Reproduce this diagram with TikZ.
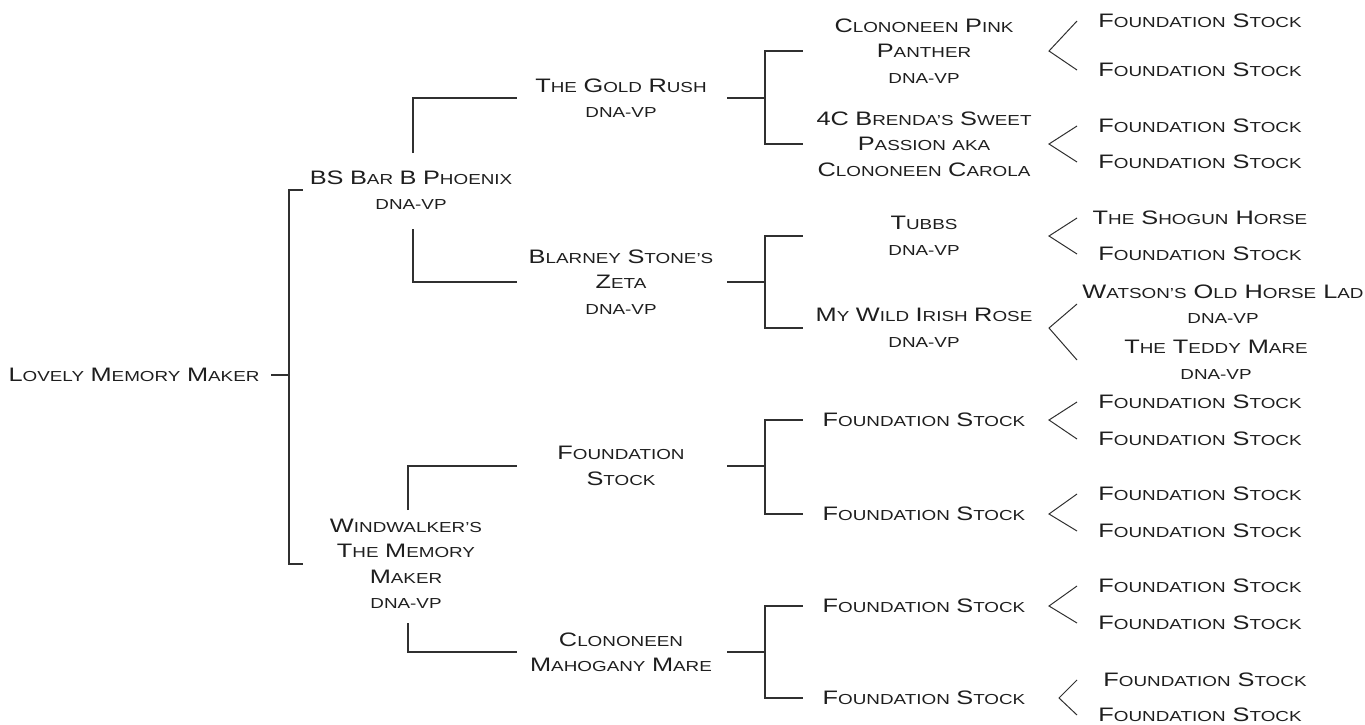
\documentclass[tikz,border=0pt]{standalone}
\usepackage{fontspec}
\setmainfont{Liberation Sans}[FakeStretch=1.3]
\newcommand\lc[1]{{\fontsize{14.5}{17}\selectfont\MakeUppercase{#1}}}
\newcommand\fstock{F\lc{oundation} S\lc{tock}}
\definecolor{ink}{HTML}{1E1E1E}
\definecolor{rule}{HTML}{303030}
\tikzset{
  horse/.style={inner sep=0pt, align=center, text=ink, font=\fontsize{19.5}{25.5}\selectfont},
  subject/.style={horse, text width=270pt},
  sire/.style={horse, text width=210pt},
  grand/.style={horse, text width=190pt},
  great/.style={horse, text width=230pt},
  link/.style={draw=rule, line width=1.4pt},
  fork/.style={draw=rule, line width=1pt},
}
\begin{document}
\begin{tikzpicture}[x=1pt,y=-1pt]
	\useasboundingbox (0,0) rectangle (1365,724);
	% subject and parents
	\node[subject] (lmm) at (134,375) {L\lc{ovely} M\lc{emory} M\lc{aker}};
	\node[sire] (bsb) at (411,190) {BS B\lc{ar} B P\lc{hoenix}\\\lc{dna-vp}};
	\node[sire] (ww) at (406,564) {W\lc{indwalker's}\\T\lc{he} M\lc{emory}\\M\lc{aker}\\\lc{dna-vp}};
	% grandparents
	\node[grand] (gold) at (621,98) {T\lc{he} G\lc{old} R\lc{ush}\\\lc{dna-vp}};
	\node[grand] (zeta) at (621,282) {B\lc{larney} S\lc{tone's}\\Z\lc{eta}\\\lc{dna-vp}};
	\node[grand] (fsa) at (621,466) {F\lc{oundation}\\S\lc{tock}};
	\node[grand] (cmm) at (621,652) {C\lc{lononeen}\\M\lc{ahogany} M\lc{are}};
	% great-grandparents
	\node[great] (pink) at (924,51) {C\lc{lononeen} P\lc{ink}\\P\lc{anther}\\\lc{dna-vp}};
	\node[great] (carola) at (924,144) {4C B\lc{renda's} S\lc{weet}\\P\lc{assion aka}\\C\lc{lononeen} C\lc{arola}};
	\node[great] (tubbs) at (924,236) {T\lc{ubbs}\\\lc{dna-vp}};
	\node[great] (rose) at (924,328) {M\lc{y} W\lc{ild} I\lc{rish} R\lc{ose}\\\lc{dna-vp}};
	\node[great] (fsb) at (924,420) {\fstock};
	\node[great] (fsc) at (924,514) {\fstock};
	\node[great] (fsd) at (924,606) {\fstock};
	\node[great] (fse) at (924,698) {\fstock};
	% last generation
	\node[horse] (g1) at (1200,21) {\fstock};
	\node[horse] (g2) at (1200,70) {\fstock};
	\node[horse] (g3) at (1200,126) {\fstock};
	\node[horse] (g4) at (1200,162) {\fstock};
	\node[horse] (shogun) at (1200,218) {T\lc{he} S\lc{hogun} H\lc{orse}};
	\node[horse] (g6) at (1200,254) {\fstock};
	\node[horse] (watson) at (1223,304) {W\lc{atson's} O\lc{ld} H\lc{orse} L\lc{ad}\\\lc{dna-vp}};
	\node[horse] (teddy) at (1216,360) {T\lc{he} T\lc{eddy} M\lc{are}\\\lc{dna-vp}};
	\node[horse] (g9) at (1200,402) {\fstock};
	\node[horse] (g10) at (1200,439) {\fstock};
	\node[horse] (g11) at (1200,494) {\fstock};
	\node[horse] (g12) at (1200,531) {\fstock};
	\node[horse] (g13) at (1200,586) {\fstock};
	\node[horse] (g14) at (1200,623) {\fstock};
	\node[horse] (g15) at (1205,680) {\fstock};
	\node[horse] (g16) at (1200,715) {\fstock};
	% brackets
	\draw[link] ([xshift=2]lmm.east) -- ++(18,0);
	\draw[link] ([xshift=-3]bsb.west) -- ++(-14,0) |- ([xshift=2]ww.west);
	\draw[link] ([xshift=2,yshift=37]bsb.center) |- ([xshift=-9]gold.west);
	\draw[link] ([xshift=2,yshift=-39]bsb.center) |- ([xshift=-9]zeta.west);
	\draw[link] ([xshift=2,yshift=54]ww.center) |- ([xshift=-9]fsa.west);
	\draw[link] ([xshift=2,yshift=-59]ww.center) |- ([xshift=-9]cmm.west);
	\foreach \p/\a/\b in {gold/pink/carola,zeta/tubbs/rose,fsa/fsb/fsc,cmm/fsd/fse}{
		\draw[link] ([xshift=11]\p.east) -- ++(38,0);
		\draw[link] ([xshift=-6]\a.west) -- ++(-38,0) |- ([xshift=-6]\b.west);
	}
	% forks to the last generation
	\coordinate (tip) at (1049,0);
	\coordinate (tipb) at (1059,0);
	\coordinate (arm) at (1077,0);
	\foreach \p/\a/\b in {pink/g1/g2,carola/g3/g4,tubbs/shogun/g6,rose/watson/teddy,fsb/g9/g10,fsc/g11/g12,fsd/g13/g14}
		\draw[fork] (arm |- \a) -- (tip |- \p) -- (arm |- \b);
	\draw[fork] (arm |- g15) -- (tipb |- fse) -- (arm |- g16);
\end{tikzpicture}
\end{document}
